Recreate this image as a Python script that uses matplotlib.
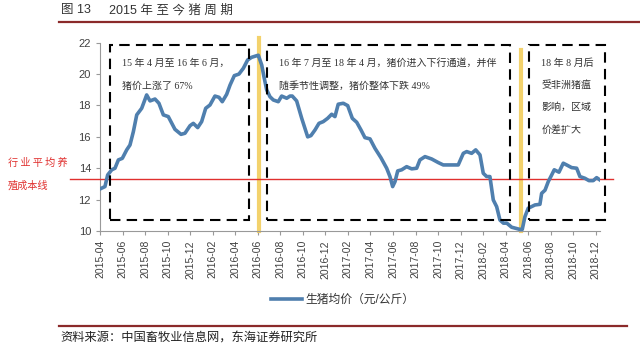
"""2015年至今猪周期 —— 生猪均价走势图。"""

import matplotlib
matplotlib.use('Agg')
import matplotlib.pyplot as plt
from matplotlib.patches import Rectangle

plt.rcParams['font.family'] = ['Liberation Sans', 'Noto Sans CJK SC']
plt.rcParams['axes.unicode_minus'] = False

# 横轴: 距 2015-04 的月数; 纵轴: 生猪均价 (元/公斤)
months = [0.00, 0.44, 0.68, 1.04, 1.33, 1.63, 1.98, 2.37, 2.66, 2.96,
          3.26, 3.70, 4.14, 4.44, 4.88, 5.23, 5.62, 6.06, 6.65, 7.19,
          7.54, 7.99, 8.28, 8.67, 9.02, 9.38, 9.76, 10.20, 10.56, 10.85,
          11.24, 11.54, 11.92, 12.33, 12.72, 13.10, 13.46, 13.90, 14.05, 14.35,
          14.55, 14.79, 15.08, 15.38, 15.82, 16.12, 16.57, 16.86, 17.06, 17.45,
          17.90, 18.43, 18.72, 19.08, 19.43, 19.81, 20.20, 20.56, 20.85, 21.14,
          21.59, 21.98, 22.39, 22.78, 23.16, 23.51, 23.96, 24.40, 24.93, 25.44,
          25.73, 25.97, 26.18, 26.42, 26.77, 27.21, 27.66, 28.10, 28.39, 28.84,
          29.43, 30.02, 30.46, 31.21, 31.79, 32.24, 32.54, 32.98, 33.34, 33.72,
          34.01, 34.31, 34.60, 34.90, 35.20, 35.49, 35.80, 36.10, 36.53, 37.27,
          37.47, 37.71, 38.00, 38.60, 39.04, 39.19, 39.49, 39.78, 40.08, 40.31,
          40.73, 41.11, 41.41, 41.85, 42.30, 42.59, 43.03, 43.39, 43.77, 44.07,
          44.37]
price = [12.68, 12.83, 13.57, 13.90, 14.00, 14.53, 14.63, 15.17, 15.48, 16.33,
         17.40, 17.82, 18.67, 18.29, 18.41, 18.14, 17.40, 17.29, 16.48, 16.16,
         16.23, 16.71, 16.86, 16.59, 16.97, 17.82, 18.03, 18.60, 18.52, 18.24,
         18.71, 19.30, 19.90, 20.00, 20.37, 20.90, 21.07, 21.17, 21.20, 20.58,
         19.83, 19.00, 18.56, 18.35, 18.24, 18.60, 18.46, 18.60, 18.60, 18.29,
         17.18, 16.00, 16.08, 16.44, 16.86, 16.97, 17.18, 17.44, 17.29, 18.08,
         18.14, 17.99, 17.18, 16.93, 16.44, 15.95, 15.87, 15.27, 14.67, 14.00,
         13.47, 12.83, 13.15, 13.83, 13.90, 14.10, 13.96, 14.00, 14.53, 14.74,
         14.59, 14.36, 14.21, 14.21, 14.21, 14.95, 15.06, 14.95, 15.17, 14.85,
         13.68, 13.47, 13.47, 11.98, 11.55, 10.70, 10.50, 10.50, 10.24, 10.10,
         10.10, 10.92, 11.45, 11.66, 11.70, 12.40, 12.60, 13.15, 13.57, 13.90,
         13.75, 14.32, 14.21, 14.04, 14.00, 13.47, 13.36, 13.21, 13.21, 13.40,
         13.25]

tick_labels = ['2015-04', '2015-06', '2015-08', '2015-10', '2015-12',
               '2016-02', '2016-04', '2016-06', '2016-08', '2016-10',
               '2016-12', '2017-02', '2017-04', '2017-06', '2017-08',
               '2017-10', '2017-12', '2018-02', '2018-04', '2018-06',
               '2018-08', '2018-10', '2018-12']

cost_line = 13.3                 # 行业平均养殖成本线
cycle_turns = [14.1, 37.4]       # 周期拐点 (2016-06, 2018-05 底)

# 三个阶段框: (起始月, 结束月)
phases = [(0.9, 13.2), (14.8, 36.4), (38.1, 44.8)]
phase_texts = [
    ['15 年 4 月至 16 年 6 月，', '猪价上涨了 67%'],
    ['16 年 7 月至 18 年 4 月，猪价进入下行通道，并伴', '随季节性调整，猪价整体下跌 49%'],
    ['18 年 8 月后', '受非洲猪瘟', '影响，区域', '价差扩大'],
]

W, H = 640, 351


def fx(px):
    return px / W


def fy(py):
    return 1 - py / H


def main():
    fig = plt.figure(figsize=(6.4, 3.51), dpi=100)
    ax = fig.add_axes([fx(100), fy(231), 500 / W, (231 - 42.7) / H])

    line, = ax.plot(months, price, color='#4F7FAE', lw=2.6,
                    solid_joinstyle='round', zorder=4)

    ax.set_xlim(0, 44.37)
    ax.set_ylim(10, 22)
    ax.set_yticks(range(10, 23, 2))
    ax.set_xticks(range(0, 45, 2))
    ax.set_xticklabels(tick_labels, rotation=90, fontsize=7.5, color='#404040')
    ax.tick_params(axis='y', labelsize=8, labelcolor='#404040')
    ax.tick_params(direction='out', length=3, color='#999999', width=0.8)
    for s in ['top', 'right']:
        ax.spines[s].set_visible(False)
    for s in ['left', 'bottom']:
        ax.spines[s].set_color('#999999')
        ax.spines[s].set_linewidth(0.8)

    # 成本线, 向轴外延伸
    ax.axhline(cost_line, xmin=-0.06, xmax=1.026, color='#E0302E', lw=1.0,
               clip_on=False, zorder=3)

    # 拐点黄线
    tops = [22.3, 21.55]
    for xv, top in zip(cycle_turns, tops):
        ax.plot([xv, xv], [10, top], color='#F2CD5C', lw=3, alpha=0.9,
                clip_on=False, zorder=2)

    # 阶段框和说明
    line_gap = [1.5, 1.5, 1.42]
    for (x0, x1), texts, gap in zip(phases, phase_texts, line_gap):
        ax.add_patch(Rectangle((x0, 10.7), x1 - x0, 21.88 - 10.7, fill=False,
                               ec='black', lw=1.5, ls=(0, (5, 3)),
                               clip_on=False, zorder=5))
        for k, t in enumerate(texts):
            ax.text(x0 + 1.05, 20.72 - k * gap, t, fontsize=7.2,
                    color='#333333', va='center', ha='left',
                    family=['Liberation Serif', 'Noto Sans CJK SC'])

    # 左侧成本线说明
    fig.text(fx(8), fy(163), '行 业 平 均 养', color='#E0302E', fontsize=7.3,
             va='center', family=['Noto Sans CJK SC'])
    fig.text(fx(8), fy(185), '殖成本线', color='#E0302E', fontsize=7.3,
             va='center', family=['Noto Sans CJK SC'])

    # 图例
    fig.legend([line], ['生猪均价（元/公斤）'], loc='center',
               bbox_to_anchor=(fx(343), fy(300)), frameon=False,
               fontsize=8.5, handlelength=2.6, handletextpad=0.3,
               labelcolor='#333333')

    # 标题与来源
    fig.text(fx(61), fy(10), '图 13', fontsize=9, color='#333333', va='center')
    fig.text(fx(109), fy(10), '2015 年 至 今 猪 周 期', fontsize=9,
             color='#333333', va='center')
    fig.add_artist(plt.Line2D([fx(59), fx(640)], [fy(21.7), fy(21.7)],
                              color='#8B2A2A', lw=1.6))
    fig.add_artist(plt.Line2D([fx(59), fx(627)], [fy(326), fy(326)],
                              color='#8B2A2A', lw=1.6))
    fig.text(fx(60), fy(339), '资料来源：中国畜牧业信息网，东海证券研究所',
             fontsize=8.8, color='#222222', va='center')

    fig.savefig('out.png', dpi=100)
    plt.close(fig)


if __name__ == '__main__':
    main()
